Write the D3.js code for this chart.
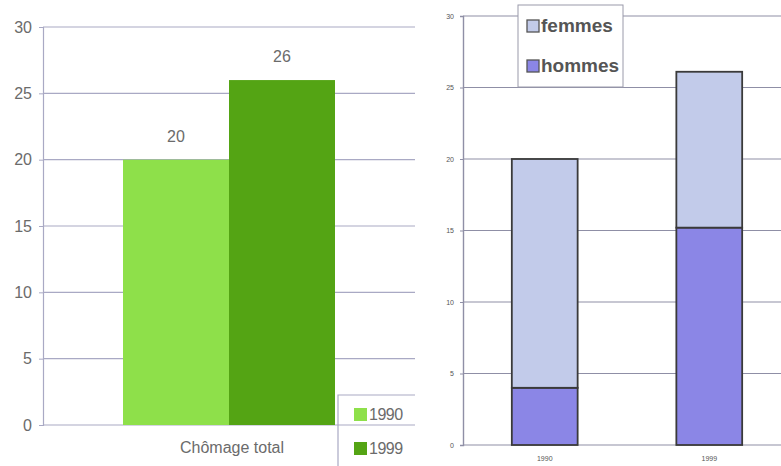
<!DOCTYPE html>
<html>
<head>
<meta charset="utf-8">
<script src="https://cdn.jsdelivr.net/npm/d3@7"></script>
<style>
  html, body { margin: 0; padding: 0; background: #fff; }
  svg { display: block; font-family: "Liberation Sans", Arial, sans-serif; }
</style>
</head>
<body>
<svg id="chart" width="781" height="466"></svg>
<script>
// Total unemployment by year
const totalCategory = ["Chômage total"];
const years = ["1990", "1999"];
const totalValues = [20, 26];
const yearColors = ["#8ee04a", "#54a414"];

// Breakdown by sex, stacked per year
const sexYears = ["1990", "1999"];
const hommes = [4, 15.2];
const femmes = [16, 10.9];
const sexSeries = ["hommes", "femmes"];
const sexLabels = ["femmes", "hommes"];
const sexColors = { femmes: "#c2cbea", hommes: "#8b86e6" };

const yTicks = [0, 5, 10, 15, 20, 25, 30];

const svg = d3.select("#chart");

// ---------- Left panel: grouped bars ----------
{
  const left = 43, right = 415, top = 27, bottom = 425;
  const y = d3.scaleLinear().domain([0, 30]).range([bottom, top]);
  const g = svg.append("g");

  // gridlines
  g.selectAll("line.grid").data(yTicks).join("line")
    .attr("x1", left).attr("x2", right)
    .attr("y1", d => y(d)).attr("y2", d => y(d))
    .attr("stroke", "#a9a9c4").attr("stroke-width", 1.2);

  // y axis
  const ax = g.append("g").attr("transform", `translate(${left},0)`)
    .call(d3.axisLeft(y).tickValues(yTicks).tickSize(4).tickPadding(7));
  ax.select(".domain").attr("stroke", "#a9a9c4").attr("stroke-width", 1.2);
  ax.selectAll(".tick line").attr("stroke", "#a9a9c4");
  ax.selectAll(".tick text").attr("fill", "#6b6b6b").attr("font-size", 16);

  // bars
  const x1 = d3.scaleBand().domain(years).range([123, 335]);
  g.selectAll("rect.bar").data(totalValues).join("rect")
    .attr("x", (d, i) => x1(years[i]))
    .attr("width", x1.bandwidth())
    .attr("y", d => y(d))
    .attr("height", d => y(0) - y(d))
    .attr("fill", (d, i) => yearColors[i]);

  // value labels
  g.selectAll("text.val").data(totalValues).join("text")
    .attr("x", (d, i) => x1(years[i]) + x1.bandwidth() / 2)
    .attr("y", d => y(d) - 18)
    .attr("text-anchor", "middle")
    .attr("fill", "#6b6b6b").attr("font-size", 16)
    .text(d => d);

  // category label
  g.append("text")
    .attr("x", x1.range()[0] + (x1.range()[1] - x1.range()[0]) / 2 + 3)
    .attr("y", 453)
    .attr("text-anchor", "middle")
    .attr("fill", "#6b6b6b").attr("font-size", 16)
    .text(totalCategory[0]);

  // legend box
  const lg = g.append("g");
  lg.append("path")
    .attr("d", "M338,466 L338,395 L415,395")
    .attr("fill", "none").attr("stroke", "#a9a9c4").attr("stroke-width", 1.2);
  years.forEach((yr, i) => {
    const cy = 414 + i * 34;
    lg.append("rect").attr("x", 354).attr("y", cy - 6).attr("width", 13).attr("height", 13)
      .attr("fill", yearColors[i]);
    lg.append("text").attr("x", 369).attr("y", cy + 6)
      .attr("fill", "#6b6b6b").attr("font-size", 16).attr("letter-spacing", -0.5).text(yr);
  });
}

// ---------- Right panel: stacked bars ----------
{
  const left = 463, right = 781, top = 16, bottom = 445;
  const y = d3.scaleLinear().domain([0, 30]).range([bottom, top]);
  const g = svg.append("g");

  g.selectAll("line.grid").data(yTicks).join("line")
    .attr("x1", left).attr("x2", right)
    .attr("y1", d => y(d)).attr("y2", d => y(d))
    .attr("stroke", "#8f8fa6").attr("stroke-width", 1.1);

  const ax = g.append("g").attr("transform", `translate(${left},0)`)
    .call(d3.axisLeft(y).tickValues(yTicks).tickSize(3).tickPadding(6));
  ax.select(".domain").attr("stroke", "#8f8fa6").attr("stroke-width", 1.4);
  ax.selectAll(".tick line").attr("stroke", "#8f8fa6");
  ax.selectAll(".tick text").attr("fill", "#555").attr("font-size", 7);

  const x = d3.scaleBand().domain(sexYears).range([447, 807]).paddingInner(0.6).paddingOuter(0.394);

  const table = sexYears.map((yr, i) => ({ year: yr, hommes: hommes[i], femmes: femmes[i] }));
  const stacked = d3.stack().keys(sexSeries)(table);

  stacked.forEach(layer => {
    g.selectAll(null).data(layer).join("rect")
      .attr("x", d => x(d.data.year))
      .attr("width", x.bandwidth())
      .attr("y", d => y(d[1]))
      .attr("height", d => y(d[0]) - y(d[1]))
      .attr("fill", sexColors[layer.key])
      .attr("stroke", "#3a3a3a").attr("stroke-width", 1.8);
  });

  const xa = g.append("g").attr("transform", `translate(0,${bottom})`)
    .call(d3.axisBottom(x).tickSize(0).tickPadding(11));
  xa.select(".domain").remove();
  xa.selectAll(".tick text").attr("fill", "#555").attr("font-size", 7);

  // legend
  const lg = g.append("g");
  lg.append("rect").attr("x", 518).attr("y", 5).attr("width", 105).attr("height", 82)
    .attr("fill", "#fff").attr("stroke", "#9a9aaa").attr("stroke-width", 1);
  sexLabels.forEach((s, i) => {
    const cy = 26 + i * 40;
    lg.append("rect").attr("x", 527).attr("y", cy - 6).attr("width", 12).attr("height", 12)
      .attr("fill", sexColors[s]).attr("stroke", "#555").attr("stroke-width", 1.3);
    lg.append("text").attr("x", 541).attr("y", cy + 6)
      .attr("fill", "#555").attr("font-size", 19).attr("font-weight", "bold").text(s);
  });
}
</script>
</body>
</html>
